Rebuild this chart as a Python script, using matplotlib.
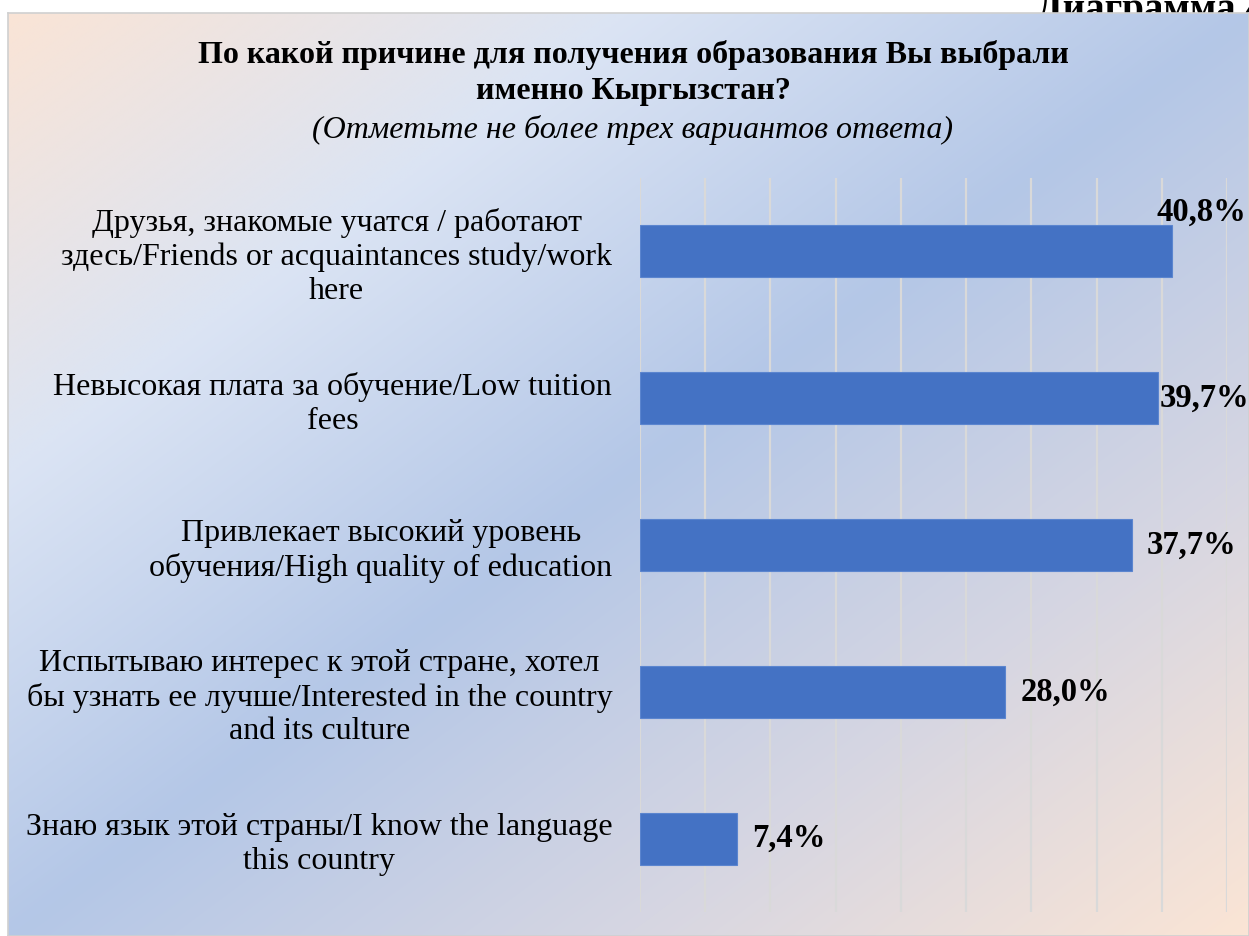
import matplotlib
matplotlib.use("Agg")
import numpy as np
from matplotlib import pyplot as plt

plt.rcParams['font.family'] = ['Liberation Serif', 'DejaVu Serif']

# data
categories = [
    "Друзья, знакомые учатся / работают\nздесь/Friends or acquaintances study/work\nhere",
    "Невысокая плата за обучение/Low tuition\nfees",
    "Привлекает высокий уровень\nобучения/High quality of education",
    "Испытываю интерес к этой стране, хотел\nбы узнать ее лучше/Interested in the country\nand its culture",
    "Знаю язык этой страны/I know the language\nthis country",
]
values = [40.8, 39.7, 37.7, 28.0, 7.4]
value_labels = ["40,8%", "39,7%", "37,7%", "28,0%", "7,4%"]

W, H = 1249, 936
fig = plt.figure(figsize=(W / 100, H / 100), dpi=100)
fig.patch.set_facecolor("white")

# caption that is partly hidden behind the chart frame
fig.text(1036 / W, 1 - 20 / H, "Диаграмма 4", fontsize=28, fontweight="bold",
         ha="left", va="baseline", zorder=-5)

# gradient background of chart area
bg = fig.add_axes([8 / W, 0, 1 - 8 / W, (H - 13) / H], zorder=-1)
gx, gy = np.meshgrid(np.linspace(0, 1, 400), np.linspace(0, 1, 300))
t = (gx + gy) / 2
stops = [0.0, 0.25, 0.5, 0.75, 1.0]
cols = np.array([[250, 228, 214], [219, 228, 244], [180, 199, 231],
                 [214, 214, 226], [251, 229, 213]]) / 255.0
img = np.dstack([np.interp(t, stops, cols[:, k]) for k in range(3)])
bg.imshow(img, aspect="auto", extent=[0, 1, 1, 0], interpolation="bilinear")
bg.set_xticks([])
bg.set_yticks([])
for s in bg.spines.values():
    s.set_color("#d0d0d0")
    s.set_linewidth(1.2)

# title
fig.text(633 / W, 1 - 55 / H, "По какой причине для получения образования Вы выбрали",
         fontsize=23, fontweight="bold", ha="center", va="center")
fig.text(633 / W, 1 - 92 / H, "именно Кыргызстан?",
         fontsize=23, fontweight="bold", ha="center", va="center")
fig.text(633 / W, 1 - 130 / H, "(Отметьте не более трех вариантов ответа)",
         fontsize=23, fontstyle="italic", ha="center", va="center")

ax = fig.add_axes([640 / W, (H - 912) / H, (1227 - 640) / W, (912 - 178) / H])
ax.patch.set_alpha(0)
y = np.arange(len(values))
ax.barh(y, values, height=0.354, color="#4472c4", edgecolor="#5b85cf",
        linewidth=0.8, zorder=3)
ax.set_xlim(0, 45)
ax.set_ylim(len(values) - 0.5, -0.5)
ax.set_xticks(np.arange(0, 46, 5))
ax.xaxis.grid(True, color="#d9d9d9", linewidth=1.6, zorder=0)
ax.tick_params(axis="x", length=0, labelbottom=False)
ax.tick_params(axis="y", length=0, pad=20, labelsize=23)
ax.set_yticks(y)
ax.set_yticklabels(categories)
for lab in ax.get_yticklabels():
    lab.set_multialignment("center")
for s in ax.spines.values():
    s.set_visible(False)

# value labels
for i, (v, lab) in enumerate(zip(values, value_labels)):
    if i == 0:
        ax.annotate(lab, (v, i), xytext=(21, 28), textcoords="offset points",
                    ha="center", va="center", fontsize=23.5, fontweight="bold")
    elif i == 1:
        ax.annotate(lab, (v, i), xytext=(1.2, 0), textcoords="offset points",
                    ha="left", va="center", fontsize=23.5, fontweight="bold")
    else:
        ax.annotate(lab, (v, i), xytext=(11, 0), textcoords="offset points",
                    ha="left", va="center", fontsize=23.5, fontweight="bold")

fig.savefig("out.png", dpi=100)
